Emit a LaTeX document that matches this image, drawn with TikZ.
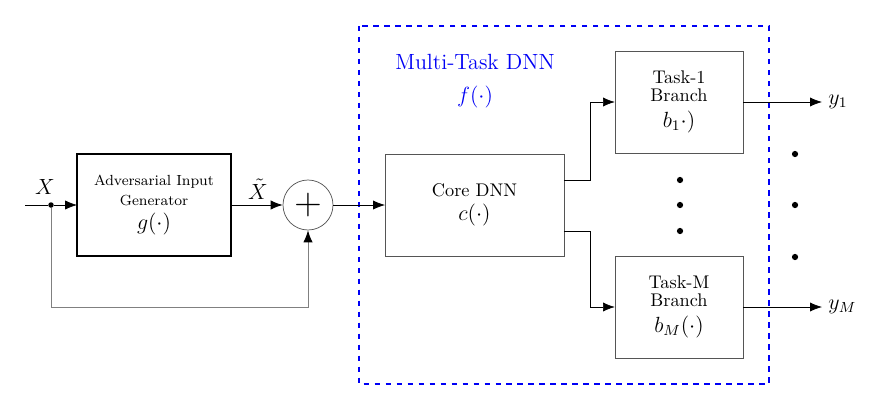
\documentclass[tikz,border=0pt]{standalone}
\usepackage{amsmath,amssymb}
\usepackage{tikz}
\usetikzlibrary{arrows.meta,positioning,calc}
\usepackage{xcolor}
\definecolor{netblue}{HTML}{0000F5}
\definecolor{boxgray}{HTML}{555555}

\begin{document}
\begin{tikzpicture}[x=0.546pt, y=-0.546pt,
    >={Latex[length=6.5pt,width=5pt]},
    blk/.style={draw=boxgray, align=center, inner sep=0pt, outer sep=0pt, minimum height=55.7pt},
    sumnode/.style={draw=boxgray, circle, minimum size=27.3pt, inner sep=0pt},
    dotmark/.style={circle, fill=black, inner sep=0pt, minimum size=3.4pt}]
    \useasboundingbox (0,0) rectangle (873,411);
    % input side
    \coordinate (xin) at (25,205);
    \node[dotmark, minimum size=3pt] (split) at (51,205) {};
    \node[font=\large] (xlab) at (45,187) {$X$};
    \node[blk, draw=black, thick, minimum width=84pt] (gen) at (154,205)
      {\footnotesize Adversarial Input\\[-1pt]\footnotesize Generator\\[1pt]\large$g(\cdot)$};
    \node[sumnode, text=black] (sum) at (308,205) {\huge$+$};
    \node[font=\large, inner sep=1pt] (xtil) at (258,189) {$\tilde{X}$};
    \draw (xin) -- (split);
    \draw[->] (split) -- (gen);
    \draw[->] (gen) -- (sum);
    \draw[draw=gray] (split) |- (308,307) -- (308,240);
    \draw[->] (308,241) -- (sum.south);
    % multi-task network
    \draw[netblue, thick, dashed] (359,26) rectangle (769,384);
    \node[netblue, font=\large] (mtl) at (475,62) {Multi-Task DNN};
    \node[netblue, font=\large] (fun) at (475,97) {$f(\cdot)$};
    \node[blk, minimum width=97.7pt] (core) at (474.5,205)
      {Core DNN\\[1pt]\large$c(\cdot)$};
    \node[blk, minimum width=70pt] (task1) at (679,102)
      {Task-1\\[-2pt]Branch\\[2pt]\large$b_1\cdot)$};
    \node[blk, minimum width=70pt] (taskm) at (679,307)
      {Task-M\\[-2pt]Branch\\[2pt]\large$b_M(\cdot)$};
    \draw[->] (sum) -- (core);
    \draw[->] ($(core.east)+(0,-25)$) -- ++(26,0) |- (task1.west);
    \draw[->] ($(core.east)+(0,26)$) -- ++(26,0) |- (taskm.west);
    \foreach \yy in {180,205,231} \node[dotmark] at (680,\yy) {};
    % outputs
    \coordinate (y1end) at (822,102);
    \coordinate (ymend) at (822,307);
    \draw[->] (task1) -- (y1end);
    \draw[->] (taskm) -- (ymend);
    \node[font=\large, anchor=west] (y1) at (y1end) {$y_1$};
    \node[font=\large, anchor=west] (ym) at (ymend) {$y_M$};
    \foreach \yy in {154,205,257} \node[dotmark] at (795,\yy) {};
  \end{tikzpicture}
\end{document}
